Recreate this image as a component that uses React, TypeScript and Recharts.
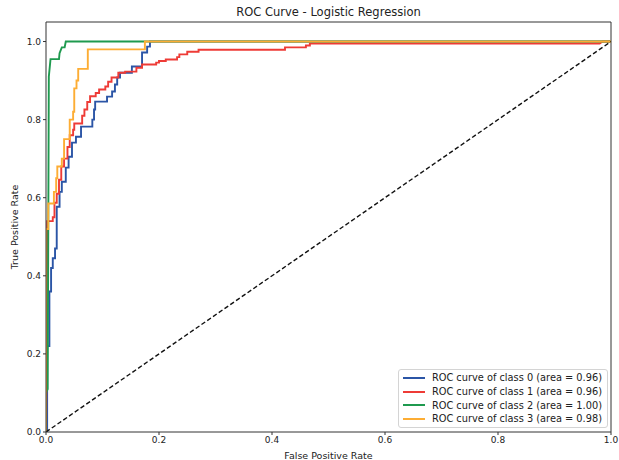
import React from 'react';
import { LineChart, Line, XAxis, YAxis, ReferenceLine, Legend, Label } from 'recharts';

const FONT = '"DejaVu Sans", Verdana, sans-serif';

// class 0 (blue)
const fpr0 = [0, 0.002, 0.002, 0.006, 0.006, 0.009, 0.009, 0.012, 0.012, 0.016, 0.016, 0.019, 0.019, 0.024, 0.024, 0.028, 0.028, 0.035, 0.035, 0.04, 0.04, 0.046, 0.046, 0.053, 0.053, 0.062, 0.062, 0.082, 0.082, 0.085, 0.085, 0.087, 0.087, 0.108, 0.108, 0.117, 0.117, 0.122, 0.122, 0.126, 0.126, 0.131, 0.131, 0.152, 0.152, 0.17, 0.17, 0.179, 0.179, 0.184, 0.184, 1];
const tpr0 = [0, 0, 0.22, 0.22, 0.36, 0.36, 0.42, 0.42, 0.445, 0.445, 0.47, 0.47, 0.577, 0.577, 0.615, 0.615, 0.641, 0.641, 0.677, 0.677, 0.705, 0.705, 0.741, 0.741, 0.756, 0.756, 0.782, 0.782, 0.8, 0.8, 0.826, 0.826, 0.846, 0.846, 0.859, 0.859, 0.872, 0.872, 0.89, 0.89, 0.908, 0.908, 0.92, 0.92, 0.936, 0.936, 0.972, 0.972, 0.987, 0.987, 1, 1];

// class 1 (red)
const fpr1 = [0, 0.002, 0.012, 0.012, 0.015, 0.015, 0.019, 0.019, 0.023, 0.023, 0.027, 0.027, 0.032, 0.032, 0.038, 0.038, 0.042, 0.042, 0.048, 0.048, 0.05, 0.05, 0.064, 0.064, 0.068, 0.068, 0.073, 0.073, 0.078, 0.078, 0.088, 0.088, 0.094, 0.094, 0.105, 0.105, 0.11, 0.11, 0.116, 0.116, 0.128, 0.128, 0.14, 0.14, 0.16, 0.16, 0.17, 0.17, 0.195, 0.195, 0.2, 0.2, 0.212, 0.212, 0.232, 0.232, 0.236, 0.236, 0.25, 0.25, 0.27, 0.27, 0.423, 0.423, 0.46, 0.46, 0.467, 0.467, 0.98, 0.985, 1];
const tpr1 = [0, 0.54, 0.54, 0.55, 0.55, 0.587, 0.587, 0.61, 0.61, 0.646, 0.646, 0.68, 0.68, 0.7, 0.7, 0.73, 0.73, 0.76, 0.76, 0.774, 0.774, 0.79, 0.79, 0.81, 0.81, 0.826, 0.826, 0.845, 0.845, 0.86, 0.86, 0.868, 0.868, 0.877, 0.877, 0.885, 0.885, 0.897, 0.897, 0.908, 0.908, 0.92, 0.92, 0.923, 0.923, 0.933, 0.933, 0.941, 0.941, 0.946, 0.946, 0.95, 0.95, 0.954, 0.954, 0.96, 0.96, 0.967, 0.967, 0.974, 0.974, 0.979, 0.979, 0.985, 0.985, 0.99, 0.99, 0.995, 0.995, 1, 1];

// class 2 (green)
const fpr2 = [0, 0, 0.003, 0.005, 0.008, 0.023, 0.024, 0.028, 0.033, 0.035, 1];
const tpr2 = [0, 0.1, 0.11, 0.91, 0.955, 0.955, 0.97, 0.985, 0.985, 1, 1];

// class 3 (orange)
const fpr3 = [0, 0, 0.004, 0.004, 0.014, 0.014, 0.018, 0.018, 0.02, 0.02, 0.028, 0.028, 0.032, 0.032, 0.042, 0.042, 0.048, 0.048, 0.05, 0.05, 0.054, 0.054, 0.057, 0.057, 0.074, 0.074, 0.175, 0.175, 1];
const tpr3 = [0, 0.52, 0.52, 0.585, 0.585, 0.615, 0.615, 0.65, 0.65, 0.68, 0.68, 0.7, 0.7, 0.75, 0.75, 0.8, 0.8, 0.82, 0.82, 0.88, 0.88, 0.9, 0.9, 0.93, 0.93, 0.98, 0.98, 1, 1];

const diagFpr = [0, 1];
const diagTpr = [0, 1];

const aucs = [0.96, 0.96, 1.0, 0.98];
const colors = ['#2b55a6', '#ee3b36', '#1f9a4f', '#fdad34'];
const xTicks = [0, 0.2, 0.4, 0.6, 0.8, 1.0];
const yTicks = [0, 0.2, 0.4, 0.6, 0.8, 1.0];

const toPoints = (xs: number[], ys: number[]) => xs.map((x, i) => ({ x, y: ys[i] }));

const curves = [
  toPoints(fpr0, tpr0),
  toPoints(fpr1, tpr1),
  toPoints(fpr2, tpr2),
  toPoints(fpr3, tpr3),
];

function RocLegend(props: any) {
  const items = (props.payload || []).filter((p: any) => p.type !== 'none');
  return (
    <div
      style={{
        border: '1px solid #d4d4d4',
        borderRadius: 3,
        background: 'rgba(255,255,255,0.85)',
        padding: '1px 5px 1px 4px',
        fontFamily: FONT,
        fontSize: 9.8,
        color: '#222',
        whiteSpace: 'nowrap',
        display: 'inline-block',
      }}
    >
      {items.map((it: any) => (
        <div key={it.value} style={{ display: 'flex', alignItems: 'center', height: 13.7 }}>
          <span style={{ width: 22, height: 0, borderTop: `2px solid ${it.color}`, marginRight: 7, flex: 'none' }} />
          <span>{it.value}</span>
        </div>
      ))}
    </div>
  );
}

export default function App() {
  const tick = { fontSize: 9, fill: '#222', fontFamily: FONT };
  return (
    <div style={{ position: 'absolute', left: 0, top: 0, width: 619, height: 460, background: '#fff' }}>
      <div
        style={{
          position: 'absolute',
          left: 46,
          width: 565,
          top: 5,
          textAlign: 'center',
          fontFamily: FONT,
          fontSize: 11.5,
          color: '#222',
        }}
      >
        ROC Curve - Logistic Regression
      </div>
      <LineChart width={619} height={460} margin={{ top: 22, right: 8, bottom: 0, left: 6 }}>
        <XAxis
          dataKey="x"
          type="number"
          domain={[0, 1]}
          ticks={xTicks}
          tickFormatter={(v: number) => v.toFixed(1)}
          tick={tick}
          tickSize={3}
          height={28}
          axisLine={{ stroke: '#333' }}
          tickLine={{ stroke: '#333' }}
          allowDataOverflow
        >
          <Label value="False Positive Rate" position="insideBottom" offset={1} style={{ fontSize: 9.5, fill: '#222', fontFamily: FONT }} />
        </XAxis>
        <YAxis
          type="number"
          domain={[0, 1.05]}
          ticks={yTicks}
          tickFormatter={(v: number) => v.toFixed(1)}
          tick={tick}
          tickSize={3}
          width={40}
          axisLine={{ stroke: '#333' }}
          tickLine={{ stroke: '#333' }}
          allowDataOverflow
        >
          <Label
            content={(p: any) => {
              const vb = p.viewBox;
              const cx = 14;
              const cy = vb.y + vb.height / 2;
              return (
                <text
                  x={cx}
                  y={cy}
                  transform={`rotate(-90 ${cx} ${cy})`}
                  textAnchor="middle"
                  dominantBaseline="central"
                  style={{ fontSize: 9.5, fill: '#222', fontFamily: FONT }}
                >
                  True Positive Rate
                </text>
              );
            }}
          />
        </YAxis>
        <ReferenceLine y={1.05} stroke="#333" ifOverflow="extendDomain" />
        <ReferenceLine x={1} stroke="#333" />
        {curves.map((pts, i) => (
          <Line
            key={i}
            data={pts}
            dataKey="y"
            type="linear"
            stroke={colors[i]}
            strokeWidth={1.9}
            dot={false}
            activeDot={false}
            isAnimationActive={false}
            name={`ROC curve of class ${i} (area = ${aucs[i].toFixed(2)})`}
          />
        ))}
        <Line
          data={toPoints(diagFpr, diagTpr)}
          dataKey="y"
          type="linear"
          stroke="#111"
          strokeWidth={1.4}
          strokeDasharray="4.5 2.5"
          dot={false}
          activeDot={false}
          isAnimationActive={false}
          legendType="none"
          name="diag"
        />
        <Legend
          layout="vertical"
          align="center"
          verticalAlign="middle"
          content={<RocLegend />}
          wrapperStyle={{ position: 'absolute', left: 'auto', right: 11, top: 369, width: 'auto', height: 'auto' }}
        />
      </LineChart>
    </div>
  );
}
